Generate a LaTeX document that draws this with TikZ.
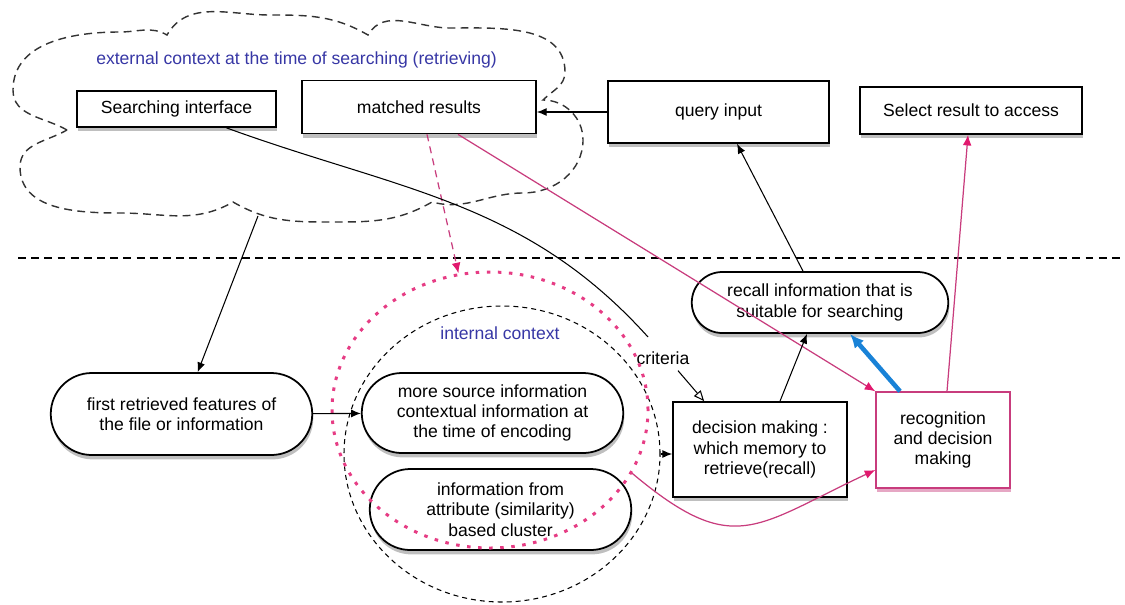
\documentclass[tikz,border=0pt]{standalone}
\usepackage{fontspec}
\setmainfont{Liberation Sans}
\usetikzlibrary{arrows.meta,shapes.geometric,shapes.misc,shadows}
\definecolor{ctxblue}{RGB}{55,55,165}
\definecolor{pinkline}{RGB}{200,60,125}
\definecolor{pinkhead}{RGB}{225,25,110}
\definecolor{bluearrow}{RGB}{25,130,215}

\begin{document}
\begin{tikzpicture}[
  font=\fontsize{10}{11.5}\selectfont,
  plain/.style={draw, line width=1pt, fill=white, align=center, inner sep=1pt},
  shadowed/.style={drop shadow={shadow xshift=0.6pt, shadow yshift=-2.5pt, opacity=0.5}},
  box/.style={plain, shadowed},
  pill/.style={box, rounded rectangle},
  arr/.style={-{Latex[length=5.5pt,width=4.5pt]}, line width=0.6pt},
  openarr/.style={-{Triangle[open,length=6pt,width=5pt]}, line width=0.6pt},
  pinkarr/.style={-{Latex[length=6pt,width=5pt,color=pinkhead]}, draw=pinkline, line width=0.7pt},
  bluearr/.style={-{Latex[length=8pt,width=7pt]}, draw=bluearrow, line width=2.6pt},
  cloudline/.style={dash pattern=on 4.5pt off 3pt, line width=0.8pt, black!80}
]
\useasboundingbox (0,0) rectangle (22.5,12.08);

% external context cloud
\draw[cloudline] (1.34,9.48) to[out=150,in=270] (0.26,10.28)
  to[out=90,in=180] (2.40,11.44) to[out=0,in=150] (3.34,11.38)
  to[out=60,in=180] (5.40,11.78) to[out=0,in=150] (7.36,11.38)
  to[out=60,in=180] (9.00,11.52) to[out=0,in=90] (11.30,10.64)
  to[out=270,in=45] (10.86,10.08) to[out=0,in=90] (11.66,9.28)
  to[out=270,in=0] (10.46,8.22) to[out=180,in=-15] (8.64,8.04)
  to[out=-150,in=0] (6.60,7.64) to[out=180,in=-30] (4.66,8.04)
  to[out=-150,in=0] (2.40,7.82) to[out=180,in=270] (0.40,8.74)
  to[out=90,in=210] (1.34,9.48);
\node[text=ctxblue] (extctx) at (5.93,10.88) {external context at the time of searching (retrieving)};
\coordinate (cloudbot) at (5.16,7.76);

\draw[dash pattern=on 4.5pt off 3pt, line width=0.8pt] (0.36,6.92) -- (22.5,6.92);

\node[box, minimum width=3.98cm, minimum height=0.72cm] (search) at (3.53,9.90) {Searching interface};
\node[box, minimum width=4.68cm, minimum height=1.06cm] (matched) at (8.38,9.94) {matched results};
\node[box, minimum width=4.42cm, minimum height=1.24cm] (query) at (14.37,9.84) {query input};
\node[box, minimum width=4.44cm, minimum height=0.94cm] (select) at (19.42,9.87) {Select result to access};

\node[pill, minimum width=5.30cm, minimum height=1.64cm] (first) at (3.63,3.80)
  {first retrieved features of\\the file or information};
\node[pill, minimum width=5.30cm, minimum height=1.60cm] (source) at (9.85,3.82)
  {more source information\\contextual information at\\the time of encoding};
\node[pill, minimum width=5.30cm, minimum height=1.62cm] (attrib) at (10.01,1.89)
  {information from\\attribute (similarity)\\based cluster};
\node[box, minimum width=3.48cm, minimum height=1.90cm] (decide) at (15.20,3.09)
  {decision making :\\which memory to\\retrieve(recall)};
\node[pill, minimum width=5.20cm, minimum height=1.22cm] (recall) at (16.40,6.03)
  {recall information that is\\suitable for searching};
\node[plain, draw=pinkline, line width=0.8pt, minimum width=2.68cm, minimum height=1.92cm,
  drop shadow={shadow xshift=0.6pt, shadow yshift=-2.5pt, opacity=0.45, fill=pinkline}]
  (recog) at (18.86,3.28) {recognition\\and decision\\making};

\node (crit) at (13.26,4.92) {criteria};
\node[text=ctxblue] (intctx) at (10.00,5.42) {internal context};

\node[draw, ellipse, dash pattern=on 2.8pt off 2.3pt, line width=0.6pt, inner sep=0pt,
  minimum width=6.32cm, minimum height=5.92cm] (inner) at (10.04,3.00) {};
\node[draw=pinkhead!85, ellipse, dash pattern=on 2pt off 4.3pt, line width=1.7pt, inner sep=0pt,
  minimum width=6.32cm, minimum height=5.52cm] (ring) at (9.80,3.88) {};

\coordinate (critend) at (12.96,5.34);

\draw[arr] (cloudbot) -- (first);
\draw[arr] (first) -- (source);
\draw[arr] (query.west) -- (query.west -| matched.east);
\draw[pinkarr, dash pattern=on 4pt off 3pt] ([xshift=0.16cm]matched.south) -- (ring.103);
\draw[pinkarr] ([xshift=0.78cm]matched.south) -- (recog.north west);
\draw[line width=0.6pt] ([xshift=1cm]search.south) to[out=-20,in=132] (critend);
\draw[openarr] ([xshift=0.3cm]crit.south) -- ([xshift=0.64cm]decide.north west);
\draw[arr] (inner.east) -- (inner.east -| decide.west);
\draw[arr] ([xshift=0.4cm]decide.north) -- ([xshift=-0.26cm]recall.south);
\draw[arr] ([xshift=-0.34cm]recall.north) -- ([xshift=0.37cm]query.south);
\draw[bluearr] ([xshift=-0.86cm]recog.north) -- ([xshift=0.6cm]recall.south);
\draw[pinkarr] ([xshift=0.08cm]recog.north) -- ([xshift=-0.06cm]select.south);
\draw[pinkarr] (ring.-24) to[out=-40,in=205,looseness=1.4] ([yshift=-0.6cm]recog.west);
\end{tikzpicture}
\end{document}
